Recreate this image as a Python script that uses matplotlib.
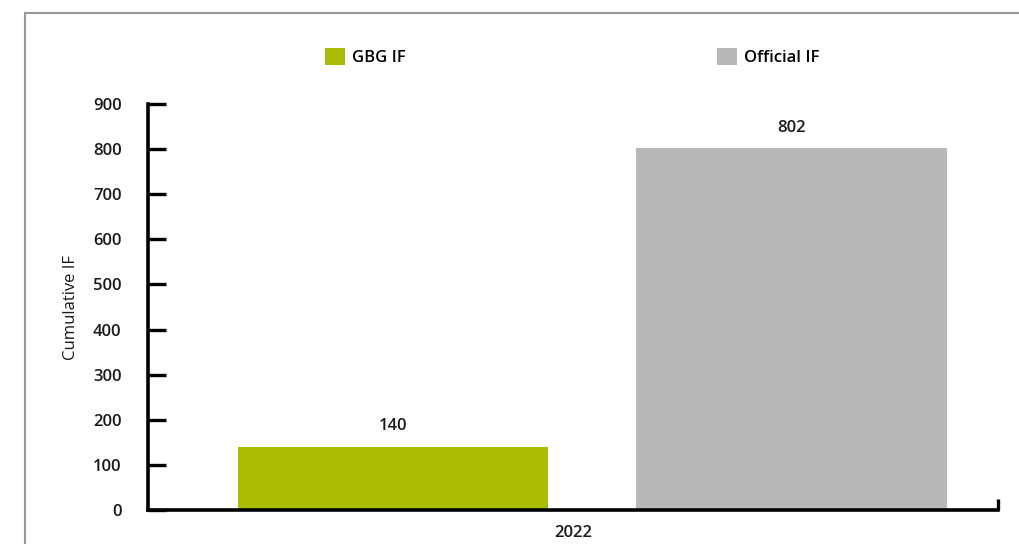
import matplotlib.pyplot as plt
from matplotlib.lines import Line2D
from matplotlib.patches import Patch

plt.rcParams['font.family'] = ['Open Sans', 'DejaVu Sans']

# data
category = ['2022']
series = ['GBG IF', 'Official IF']
values = [140, 802]
colors = ['#AABD04', '#B8B8B8']

fig = plt.figure(figsize=(10.2, 5.44), dpi=100)
ax = fig.add_axes([148 / 1020, 34 / 544, 850 / 1020, 406 / 544])

# grouped bars inside the single category
width = 0.365
offsets = [-0.212, 0.257]
for val, col, off in zip(values, colors, offsets):
    ax.bar(0 + off, val, width=width, color=col, zorder=1)
    ax.text(0 + off, val + 28, str(val), ha='center', va='bottom',
            fontsize=12, fontweight='semibold', color='#1a1a1a')

ax.set_xlim(-0.5, 0.5)
ax.set_ylim(0, 900)
ax.set_yticks(range(0, 1000, 100))
ax.set_xticks([0])
ax.set_xticklabels(category)
ax.set_xticks([0.5], minor=True)

for side in ['top', 'right']:
    ax.spines[side].set_visible(False)
for side in ['left', 'bottom']:
    ax.spines[side].set_linewidth(2.6)
    ax.spines[side].set_zorder(3)

ax.tick_params(axis='y', direction='in', length=13, width=2.4, pad=19,
               labelsize=12, labelcolor='#1a1a1a')
ax.tick_params(axis='x', which='major', length=0, pad=11, labelsize=12,
               labelcolor='#1a1a1a')
ax.tick_params(axis='x', which='minor', direction='in', length=8, width=2.4)
for lbl in ax.get_yticklabels() + ax.get_xticklabels():
    lbl.set_fontweight('semibold')

ax.set_ylabel('Cumulative IF', fontsize=12, color='#1a1a1a', labelpad=10)

handles = [Patch(facecolor=c, edgecolor='none') for c in colors]
fig.legend(handles, series, loc='center left', bbox_to_anchor=(325 / 1020, 1 - 57 / 544),
           ncol=2, frameon=False, handlelength=1.2, handleheight=1.2,
           handletextpad=0.4, columnspacing=18.7, borderpad=0, borderaxespad=0,
           prop={'weight': 'semibold', 'size': 12})

# outer frame (left and top only)
fig.add_artist(Line2D([25 / 1020, 25 / 1020], [0, 1 - 13 / 544], color='#999999',
                      lw=1.5, transform=fig.transFigure))
fig.add_artist(Line2D([25 / 1020, 1], [1 - 13 / 544, 1 - 13 / 544], color='#999999',
                      lw=1.5, transform=fig.transFigure))

fig.savefig('out.png', dpi=100)
